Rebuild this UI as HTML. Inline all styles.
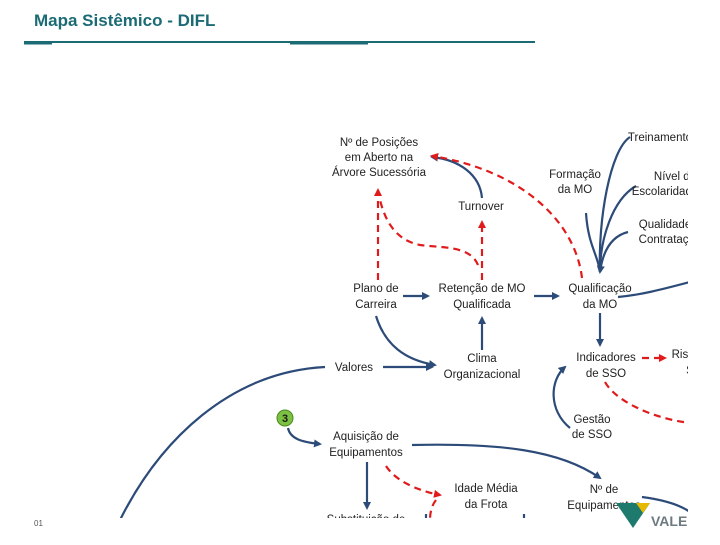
<!DOCTYPE html>
<html><head><meta charset="utf-8"><style>
body{margin:0;width:720px;height:540px;background:#fff;overflow:hidden;font-family:"Liberation Sans",sans-serif}
</style></head><body>
<svg width="720" height="540" xmlns="http://www.w3.org/2000/svg">
<defs>
<marker id="b" markerWidth="8" markerHeight="8" refX="6" refY="4" orient="auto" markerUnits="userSpaceOnUse"><path d="M0,0 L8,4 L0,8 z" fill="#2d4b78"/></marker>
<marker id="r" markerWidth="8" markerHeight="8" refX="6" refY="4" orient="auto" markerUnits="userSpaceOnUse"><path d="M0,0 L8,4 L0,8 z" fill="#e01b1b"/></marker>
<clipPath id="c"><rect x="0" y="60" width="688" height="458"/></clipPath>
</defs>
<text x="34" y="26" font-size="17" font-weight="bold" fill="#1b6b74">Mapa Sistêmico - DIFL</text>
<rect x="24" y="41" width="511" height="2" fill="#1b6b74"/>
<rect x="24" y="43" width="28" height="1.5" fill="#1b6b74"/>
<rect x="290" y="43" width="78" height="1.5" fill="#1b6b74"/>
<text x="34" y="526" font-size="8" fill="#555">01</text>
<g clip-path="url(#c)">
<g fill="none" stroke="#2d4b78" stroke-width="2.2">
<path d="M482,198 C480,175 460,160 432,157" marker-end="url(#b)"/>
<path d="M403,296 L428,296" marker-end="url(#b)"/>
<path d="M534,296 L558,296" marker-end="url(#b)"/>
<path d="M376,316 C385,345 405,360 435,365" marker-end="url(#b)"/>
<path d="M482,350 L482,318" marker-end="url(#b)"/>
<path d="M383,367 L432,367" marker-end="url(#b)"/>
<path d="M325,367 C230,372 160,440 120,520"/>
<path d="M600,313 L600,345" marker-end="url(#b)"/>
<path d="M570,428 C548,410 550,380 565,367" marker-end="url(#b)"/>
<path d="M412,445 C500,443 560,450 600,478" marker-end="url(#b)"/>
<path d="M288,428 C290,438 300,442 320,444" marker-end="url(#b)"/>
<path d="M367,462 L367,508" marker-end="url(#b)"/>
<path d="M618,297 C640,295 660,290 690,282"/>
<path d="M586,213 C588,245 598,255 600,272"/>
<path d="M630,137 C610,150 598,220 600,272"/>
<path d="M636,186 C612,200 600,240 600,272"/>
<path d="M628,232 C612,236 603,250 600,272" marker-end="url(#b)"/>
<path d="M642,497 C665,500 680,505 690,512"/>
<path d="M426,514 L426,520 M524,514 L524,520"/>
</g>
<g fill="none" stroke="#e01b1b" stroke-width="2.2" stroke-dasharray="7,5">
<path d="M378,280 L378,190" marker-end="url(#r)"/>
<path d="M478,265 C470,245 440,248 420,245 C395,240 385,220 380,200"/>
<path d="M482,280 L482,222" marker-end="url(#r)"/>
<path d="M582,278 C575,220 520,170 432,156" marker-end="url(#r)"/>
<path d="M642,358 L665,358" marker-end="url(#r)"/>
<path d="M605,382 C615,400 650,418 690,423"/>
<path d="M425,462 C410,480 390,477 382,470" transform="" stroke="none"/>
<path d="M386,466 C395,480 415,490 440,495" marker-end="url(#r)"/>
<path d="M436,500 C432,505 430,512 430,520"/>
</g>
<g font-size="11.5" fill="#222" text-anchor="middle" font-family="Liberation Sans, DejaVu Sans, sans-serif">
<text x="379" y="146">Nº de Posições</text>
<text x="379" y="161">em Aberto  na</text>
<text x="379" y="176">Árvore Sucessória</text>
<text x="481" y="210">Turnover</text>
<text x="575" y="178">Formação</text><text x="575" y="193">da MO</text>
<text x="660" y="141">Treinamento</text>
<text x="675" y="180">Nível de</text><text x="665" y="195">Escolaridade</text>
<text x="665" y="228">Qualidade</text><text x="670" y="243">Contratação</text>
<text x="376" y="292">Plano de</text><text x="376" y="308">Carreira</text>
<text x="482" y="292">Retenção de MO</text><text x="482" y="308">Qualificada</text>
<text x="600" y="292">Qualificação</text><text x="600" y="308">da MO</text>
<text x="354" y="371">Valores</text>
<text x="482" y="362">Clima</text><text x="482" y="378">Organizacional</text>
<text x="606" y="361">Indicadores</text><text x="606" y="377">de SSO</text>
<text x="686" y="358">Risco</text><text x="690" y="374">S</text>
<text x="592" y="423">Gestão</text><text x="592" y="438">de SSO</text>
<text x="366" y="440">Aquisição de</text><text x="366" y="456">Equipamentos</text>
<text x="486" y="492">Idade Média</text><text x="486" y="508">da Frota</text>
<text x="604" y="493">Nº de</text><text x="604" y="509">Equipamentos</text>
<text x="366" y="523">Substituição de</text>
</g>
<circle cx="285" cy="418" r="8" fill="#7cc142" stroke="#4a8a20" stroke-width="1"/>
<text x="285" y="422" font-size="11" font-weight="bold" text-anchor="middle" fill="#1a1a1a">3</text>
</g>
<polygon points="616,503 650,503 633,528" fill="#1f7a6e"/>
<polygon points="636,503 650,503 643,513" fill="#e6b800"/>
<text x="651" y="526" font-size="14" font-weight="bold" fill="#6d7a80">VALE</text>
</svg>
</body></html>
